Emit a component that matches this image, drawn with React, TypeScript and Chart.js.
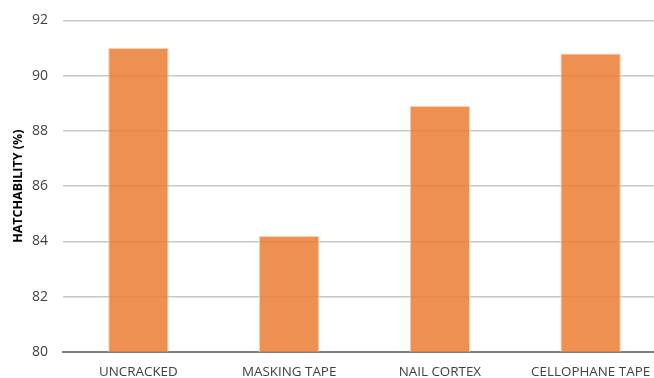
import React, { useEffect, useRef } from "react";
import { Chart, registerables } from "chart.js";

Chart.register(...registerables);

const categories = ["UNCRACKED", "MASKING TAPE", "NAIL CORTEX", "CELLOPHANE TAPE"];
const hatchability = [91.0, 84.2, 88.9, 90.8];
const yTicks = [80, 82, 84, 86, 88, 90, 92];
const yTitle = "HATCHABILITY (%)";

export default function App() {
  const ref = useRef<HTMLCanvasElement | null>(null);
  useEffect(() => {
    document.body.style.margin = "0";
    document.body.style.overflow = "hidden";
    document.documentElement.style.overflow = "hidden";
    const ctx = ref.current!;
    const chart = new Chart(ctx, {
      type: "bar",
      data: {
        labels: categories,
        datasets: [
          {
            data: hatchability,
            backgroundColor: "rgba(235,125,50,0.85)",
            borderColor: "rgba(250,205,175,0.9)",
            borderWidth: 1,
            barPercentage: 0.4,
            categoryPercentage: 1,
          },
        ],
      },
      options: {
        responsive: false,
        animation: false,
        layout: { padding: { left: 11, right: 6, top: 1, bottom: 0 } },
        plugins: { legend: { display: false }, tooltip: { enabled: false } },
        scales: {
          x: {
            grid: { display: false, drawTicks: false },
            border: { color: "#7f7f7f", width: 2 },
            ticks: {
              color: "#404040",
              font: { family: "'Open Sans'", size: 13.4 },
              padding: 12,
              maxRotation: 0,
            },
            afterFit: (s: any) => {
              s.height = 26;
            },
          },
          y: {
            min: 80,
            max: 92,
            afterBuildTicks: (s: any) => {
              s.ticks = yTicks.map((v) => ({ value: v }));
            },
            grid: { color: "#c8c8c8", lineWidth: 1.5, drawTicks: false },
            border: { display: false },
            ticks: {
              color: "#404040",
              font: { family: "'Open Sans'", size: 14 },
              padding: 15,
            },
            title: {
              display: true,
              text: yTitle,
              color: "#000000",
              font: { family: "'Open Sans'", size: 12.5, weight: "bold" },
              padding: 0,
            },
            afterFit: (s: any) => {
              s.width = 52;
            },
          },
        },
      },
    });
    return () => chart.destroy();
  }, []);
  return (
    <div style={{ position: "absolute", left: 0, top: -3, width: 672, height: 381 }}>
      <canvas ref={ref} width={672} height={381} style={{ width: 672, height: 381 }} />
    </div>
  );
}
